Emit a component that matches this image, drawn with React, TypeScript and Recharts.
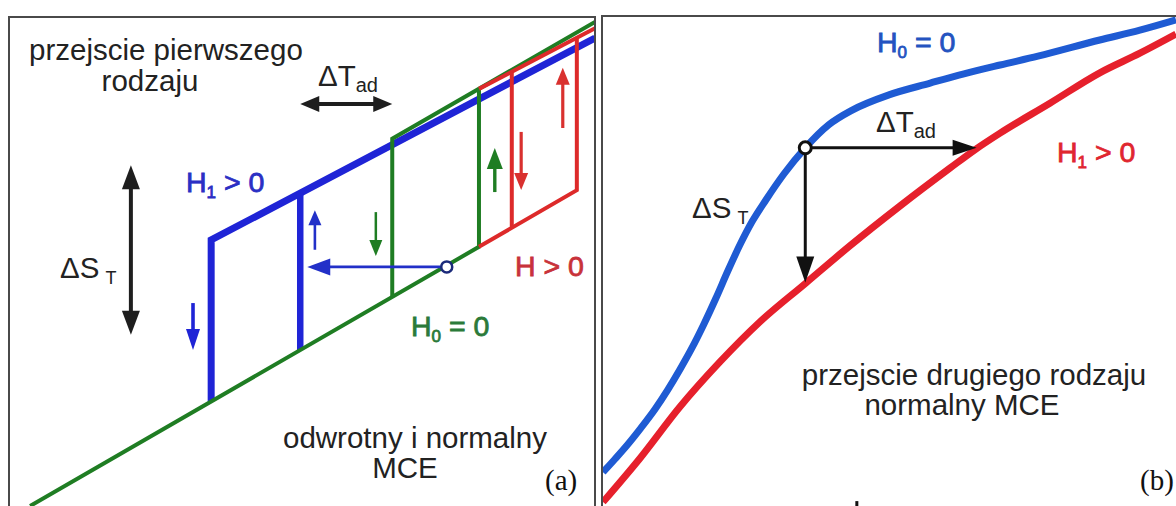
import React from "react";
import { ComposedChart, Line, XAxis, YAxis, ReferenceLine, ReferenceDot } from "recharts";

type Pt = { t: number; s: number };

// (a) first-order transition, schematic units: T and S both 0..100
const h0Heating: Pt[] = [{ t: 3.6, s: 0 }, { t: 80.2, s: 53.0 }, { t: 80.2, s: 85.3 }];
const h0Cooling: Pt[] = [{ t: 65.4, s: 42.7 }, { t: 65.4, s: 75.1 }, { t: 100, s: 99.0 }];
const h1Cooling: Pt[] = [{ t: 34.5, s: 21.4 }, { t: 34.5, s: 54.4 }, { t: 100, s: 95.7 }];
const h1Heating: Pt[] = [{ t: 49.7, s: 31.9 }, { t: 49.7, s: 64.0 }];
const hHeating: Pt[] = [{ t: 80.2, s: 53.0 }, { t: 96.9, s: 64.6 }, { t: 96.9, s: 95.8 }];
const hUpper: Pt[] = [{ t: 80.2, s: 85.3 }, { t: 100, s: 97.7 }];
const hCooling: Pt[] = [{ t: 85.8, s: 56.9 }, { t: 85.8, s: 88.8 }];

// arrows in (a), [from, to]
const redUp: Pt[] = [{ t: 94.5, s: 77.3 }, { t: 94.5, s: 89.6 }];
const redDown: Pt[] = [{ t: 87.4, s: 76.5 }, { t: 87.4, s: 64.6 }];
const greenUp: Pt[] = [{ t: 82.9, s: 64.2 }, { t: 82.9, s: 73.2 }];
const greenDown: Pt[] = [{ t: 62.6, s: 60.1 }, { t: 62.6, s: 51.1 }];
const blueUp: Pt[] = [{ t: 52.2, s: 52.4 }, { t: 52.2, s: 60.5 }];
const blueDown: Pt[] = [{ t: 31.4, s: 41.5 }, { t: 31.4, s: 31.9 }];
const isoField: Pt[] = [{ t: 74.7, s: 48.9 }, { t: 50.9, s: 48.9 }];
const dTadA: Pt[] = [{ t: 49.7, s: 82.2 }, { t: 65.4, s: 82.2 }];
const dSA: Pt[] = [{ t: 20.8, s: 69.7 }, { t: 20.8, s: 35.0 }];
const startA: Pt = { t: 74.7, s: 48.9 };

// (b) second-order transition
const h0Curve: Pt[] = [
  { t: 0, s: 6.9 }, { t: 2.1, s: 9.6 }, { t: 4.2, s: 12.4 }, { t: 6.6, s: 15.9 },
  { t: 9.1, s: 19.8 }, { t: 11.3, s: 23.7 }, { t: 13.4, s: 27.8 }, { t: 15.5, s: 32.2 },
  { t: 17.6, s: 37.1 }, { t: 19.7, s: 42.4 }, { t: 21.8, s: 48.0 }, { t: 23.9, s: 53.3 },
  { t: 26.0, s: 58.0 }, { t: 28.4, s: 62.4 }, { t: 31.6, s: 67.8 }, { t: 35.3, s: 73.1 },
  { t: 39.4, s: 77.8 }, { t: 43.5, s: 80.8 }, { t: 49.9, s: 83.9 }, { t: 57.1, s: 86.3 },
  { t: 63.0, s: 88.2 }, { t: 69.3, s: 90.0 }, { t: 75.9, s: 91.8 }, { t: 86.7, s: 95.1 },
  { t: 93.7, s: 97.1 }, { t: 100, s: 99.2 },
];
const h1Curve: Pt[] = [
  { t: 0, s: 0.8 }, { t: 6.5, s: 9.8 }, { t: 13.4, s: 20.2 }, { t: 20.4, s: 29.4 },
  { t: 27.4, s: 37.6 }, { t: 35.4, s: 45.5 }, { t: 43.1, s: 53.1 }, { t: 51.8, s: 61.2 },
  { t: 60.6, s: 69.0 }, { t: 64.9, s: 72.7 }, { t: 69.3, s: 76.1 }, { t: 78.0, s: 82.2 },
  { t: 86.7, s: 88.4 }, { t: 93.7, s: 92.4 }, { t: 100, s: 96.3 },
];
const dTadB: Pt[] = [{ t: 35.3, s: 73.1 }, { t: 65.2, s: 73.1 }];
const dSB: Pt[] = [{ t: 35.3, s: 73.1 }, { t: 35.3, s: 45.6 }];
const startB: Pt = { t: 35.3, s: 73.1 };
const stubB: Pt[] = [{ t: 44.3, s: 0 }, { t: 44.3, s: 1.0 }];

const GREEN = "#1f7d23";
const BLUE_A = "#1f24d6";
const RED_A = "#dd2a2a";
const BLUE_B = "#1f5bd3";
const RED_B = "#e6202c";
const INK = "#1e1e1e";

function arrowShape(color: string, w: number, hl: number, hw: number, both = false) {
  return (p: any) => {
    const { x1, y1, x2, y2 } = p;
    const len = Math.hypot(x2 - x1, y2 - y1) || 1;
    const ux = (x2 - x1) / len;
    const uy = (y2 - y1) / len;
    const tri = (tx: number, ty: number, dx: number, dy: number) => {
      const bx = tx - dx * hl;
      const by = ty - dy * hl;
      return `${tx},${ty} ${bx - (dy * hw) / 2},${by + (dx * hw) / 2} ${bx + (dy * hw) / 2},${by - (dx * hw) / 2}`;
    };
    if (hl === 0) return <line x1={x1} y1={y1} x2={x2} y2={y2} stroke={color} strokeWidth={w} />;
    return (
      <g>
        <line
          x1={both ? x1 + ux * hl * 0.8 : x1}
          y1={both ? y1 + uy * hl * 0.8 : y1}
          x2={x2 - ux * hl * 0.8}
          y2={y2 - uy * hl * 0.8}
          stroke={color}
          strokeWidth={w}
        />
        <polygon points={tri(x2, y2, ux, uy)} fill={color} />
        {both && <polygon points={tri(x1, y1, -ux, -uy)} fill={color} />}
      </g>
    );
  };
}

function arrow(key: string, seg: Pt[], color: string, w: number, hl: number, hw: number, both = false) {
  return (
    <ReferenceLine
      key={key}
      segment={[{ x: seg[0].t, y: seg[0].s }, { x: seg[1].t, y: seg[1].s }]}
      ifOverflow="visible"
      shape={arrowShape(color, w, hl, hw, both)}
    />
  );
}

function path(key: string, data: Pt[], color: string, width: number, type: "linear" | "monotone" = "linear") {
  return (
    <Line
      key={key}
      data={data}
      dataKey="s"
      type={type}
      stroke={color}
      strokeWidth={width}
      strokeLinejoin="miter"
      dot={false}
      activeDot={false}
      isAnimationActive={false}
    />
  );
}

const axes = [
  <XAxis key="x" dataKey="t" type="number" domain={[0, 100]} allowDataOverflow hide />,
  <YAxis key="y" dataKey="s" type="number" domain={[0, 100]} allowDataOverflow hide />,
];

const sans = "'Liberation Sans', Arial, sans-serif";
const serif = "'Liberation Serif', 'Times New Roman', serif";

function Tag({ x, y, color, main, sub, rest }: { x: number; y: number; color: string; main: string; sub?: string; rest: string }) {
  return (
    <text x={x} y={y} fill={color} stroke={color} strokeWidth={0.8}>
      {main}
      {sub && <tspan fontSize={17} dy={6}>{sub}</tspan>}
      <tspan dy={sub ? -6 : 0}>{rest}</tspan>
    </text>
  );
}

export default function App() {
  return (
    <div style={{ position: "fixed", left: 0, top: 0, width: 1176, height: 506, overflow: "hidden", background: "#fff" }}>
      <div style={{ position: "absolute", left: 9, top: 17 }}>
        <ComposedChart width={586} height={489} margin={{ top: 0, right: 0, bottom: 0, left: 0 }}>
          {axes}
          {path("h1c", h1Cooling, BLUE_A, 7)}
          {path("h1h", h1Heating, BLUE_A, 6.5)}
          {path("h0h", h0Heating, GREEN, 4)}
          {path("h0c", h0Cooling, GREEN, 4)}
          {path("hh", hHeating, RED_A, 4)}
          {path("hu", hUpper, RED_A, 4)}
          {path("hc", hCooling, RED_A, 4)}
          {arrow("ru", redUp, "#d9312f", 3.2, 17, 14)}
          {arrow("rd", redDown, "#d9312f", 3.2, 17, 14)}
          {arrow("gu", greenUp, GREEN, 3.4, 21, 16)}
          {arrow("gd", greenDown, GREEN, 2.5, 16, 13)}
          {arrow("bu", blueUp, "#2230c8", 2.6, 15, 13)}
          {arrow("bd", blueDown, BLUE_A, 3.6, 21, 14)}
          {arrow("bl", isoField, "#2230c8", 2.6, 23, 17)}
          {arrow("dt", dTadA, INK, 4, 19, 16, true)}
          {arrow("ds", dSA, INK, 4, 24, 18, true)}
          <ReferenceDot x={startA.t} y={startA.s} r={5.5} fill="#fff" stroke="#1b2a7a" strokeWidth={2.5} ifOverflow="visible" />
        </ComposedChart>
      </div>
      <div style={{ position: "absolute", left: 603, top: 16 }}>
        <ComposedChart width={573} height={490} margin={{ top: 0, right: 0, bottom: 0, left: 0 }}>
          {axes}
          {path("b0", h0Curve, BLUE_B, 7, "monotone")}
          {path("b1", h1Curve, RED_B, 7, "monotone")}
          {arrow("bt", dTadB, "#111", 3, 24, 16)}
          {arrow("bs", dSB, "#111", 3, 26, 18)}
          {arrow("stub", stubB, "#111", 3, 0, 0)}
          <ReferenceDot x={startB.t} y={startB.s} r={6} fill="#fff" stroke="#111" strokeWidth={3} ifOverflow="visible" />
        </ComposedChart>
      </div>
      <div style={{ position: "absolute", left: 8, top: 16, width: 584, height: 600, border: "2px solid #4a4a4a" }} />
      <div style={{ position: "absolute", left: 601, top: 15, width: 700, height: 600, border: "2px solid #4a4a4a" }} />
      <svg width={1176} height={506} style={{ position: "absolute", left: 0, top: 0 }} fontFamily={sans}>
        <g fill="#222" fontSize={29.5}>
          <text x={29} y={60}>przejscie pierwszego</text>
          <text x={150} y={91} textAnchor="middle">rodzaju</text>
          <text x={318} y={86}>ΔT<tspan fontSize={20} dy={6}>ad</tspan></text>
          <text x={60} y={278}>ΔS<tspan fontSize={18} dx={6} dy={6}>T</tspan></text>
          <text x={415} y={448} textAnchor="middle">odwrotny i normalny</text>
          <text x={405} y={478} textAnchor="middle">MCE</text>
          <text x={692} y={218}>ΔS<tspan fontSize={18} dx={6} dy={6}>T</tspan></text>
          <text x={876} y={132}>ΔT<tspan fontSize={20} dy={6}>ad</tspan></text>
          <text x={974} y={385} textAnchor="middle">przejscie drugiego rodzaju</text>
          <text x={962} y={415} textAnchor="middle">normalny MCE</text>
        </g>
        <g fontSize={28.5}>
          <Tag x={186} y={192} color="#2b2fc4" main="H" sub="1" rest=" > 0" />
          <Tag x={515} y={276} color="#c8323a" main="H > 0" rest="" />
          <Tag x={411} y={336} color="#2b7a39" main="H" sub="0" rest=" = 0" />
          <Tag x={877} y={52} color="#2453c0" main="H" sub="0" rest=" = 0" />
          <Tag x={1057} y={162} color="#e0262f" main="H" sub="1" rest=" > 0" />
        </g>
        <g fontFamily={serif} fontSize={29} fill="#111">
          <text x={545} y={490}>(a)</text>
          <text x={1140} y={490}>(b)</text>
        </g>
      </svg>
    </div>
  );
}
